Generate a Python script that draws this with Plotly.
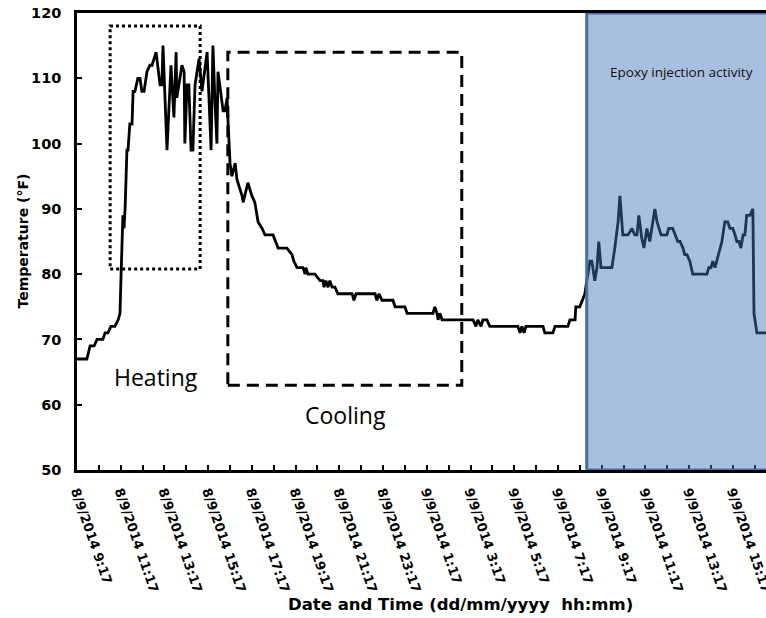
import plotly.graph_objects as go
import pandas as pd

# ---- data ----
START = pd.Timestamp("2014-09-08 09:17")
elapsed_min = [
    0, 27, 36, 47, 55, 71, 77, 85, 93, 104, 113, 118, 121, 126, 129, 132, 137, 140, 145, 151,
    154, 159, 167, 173, 178, 184, 192, 200, 206, 217, 228, 233, 236, 247, 252, 258, 266, 272, 274, 283,
    288, 294, 296, 302, 307, 313, 318, 324, 329, 335, 343, 348, 357, 368, 373, 379, 384, 387, 395, 401,
    406, 412, 414, 420, 425, 434, 439, 447, 453, 456, 469, 480, 488, 497, 508, 516, 538, 552, 576, 590,
    595, 604, 620, 626, 628, 634, 653, 667, 675, 678, 683, 689, 694, 700, 708, 716, 755, 760, 766, 818,
    823, 829, 837, 867, 873, 900, 906, 977, 982, 988, 991, 996, 1002, 1087, 1095, 1100, 1109, 1114, 1125, 1133,
    1210, 1216, 1221, 1227, 1232, 1279, 1284, 1306, 1312, 1347, 1353, 1367, 1369, 1380, 1386, 1394, 1399, 1408, 1413, 1421,
    1427, 1432, 1438, 1468, 1476, 1485, 1490, 1495, 1498, 1512, 1523, 1531, 1537, 1542, 1550, 1556, 1564, 1572, 1581, 1586,
    1592, 1597, 1603, 1619, 1624, 1635, 1641, 1649, 1655, 1663, 1668, 1674, 1682, 1690, 1729, 1734, 1740, 1745, 1751, 1756,
    1764, 1770, 1778, 1786, 1792, 1800, 1806, 1811, 1817, 1822, 1828, 1833, 1838, 1847, 1855, 1858, 1866, 1891,
]
temp_f = [
    67, 67, 69, 69, 70, 70, 71, 71, 72, 72, 73, 74, 80, 89, 87, 90, 99, 99, 103, 103,
    108, 108, 110, 110, 108, 108, 111, 112, 112, 114, 109, 109, 115, 99, 105, 112, 104, 114, 107, 110,
    112, 111, 100, 109, 109, 99, 99, 109, 111, 113, 108, 110, 114, 99, 115, 106, 100, 111, 108, 105,
    105, 107, 104, 97, 95, 97, 94.5, 93, 92, 91, 94, 92, 91, 88, 87, 86, 86, 84, 84, 83,
    82, 81, 81, 80, 81, 80, 80, 79, 79, 78, 79, 78, 79, 78, 78, 77, 77, 76, 77, 77,
    76, 77, 76, 76, 75, 75, 74, 74, 75, 74, 73, 74, 73, 73, 72, 73, 72, 73, 73, 72,
    72, 71, 72, 71, 72, 72, 71, 71, 72, 72, 73, 73, 75, 75, 76, 77, 79, 82, 82, 79,
    81, 85, 81, 81, 84, 88, 92, 88, 86, 86, 87, 86, 86, 89, 85.5, 84, 87, 85, 88, 90,
    88, 87, 86, 86, 87, 87, 86, 85, 85, 84, 83, 83, 82, 80, 80, 81, 81, 82, 81, 82,
    84, 85, 88, 88, 87, 87, 86, 85, 85, 84, 86, 86, 89, 89, 90, 74, 71, 71,
]
y_ticks = [50, 60, 70, 80, 90, 100, 110, 120]

times = [START + pd.Timedelta(minutes=m) for m in elapsed_min]

def t(m):
    return START + pd.Timedelta(minutes=m)

FONT = "DejaVu Sans"

fig = go.Figure()
fig.add_trace(go.Scatter(x=times, y=temp_f, mode="lines",
                         line=dict(color="black", width=2.8), showlegend=False,
                         hoverinfo="skip"))

shapes = [
    # heating box (dotted)
    dict(type="rect", xref="x", yref="y", x0=t(91), x1=t(338), y0=80.8, y1=118.0,
         line=dict(color="black", width=3, dash="dot"), fillcolor="rgba(0,0,0,0)", layer="above"),
    # cooling box (dashed)
    dict(type="rect", xref="x", yref="y", x0=t(414), x1=t(1056), y0=63.0, y1=114.0,
         line=dict(color="black", width=3, dash="12px,7px"), fillcolor="rgba(0,0,0,0)", layer="above"),
    # epoxy injection activity region
    dict(type="rect", xref="x", yref="y", x0=t(1399), x1=t(1990), y0=50, y1=120,
         line=dict(color="#4a6d9f", width=3), fillcolor="rgba(68,115,187,0.46)", layer="above"),
]

annotations = [
    dict(text="Heating", xref="paper", yref="paper", x=0.1147, y=0.2035, showarrow=False,
         font=dict(family="Open Sans", size=23, color="black"), xanchor="center", yanchor="middle"),
    dict(text="Cooling", xref="paper", yref="paper", x=0.389, y=0.120, showarrow=False,
         font=dict(family="Open Sans", size=23, color="black"), xanchor="center", yanchor="middle"),
    dict(text="Epoxy injection activity", xref="paper", yref="paper", x=0.877, y=0.87, showarrow=False,
         font=dict(family="Open Sans", size=13.5, color="#111111"), xanchor="center", yanchor="middle"),
    dict(text="Temperature (°F)", xref="paper", yref="paper", x=-0.0798, y=0.5, showarrow=False,
         textangle=-90, font=dict(family=FONT, size=14, color="black", weight="bold"),
         xanchor="center", yanchor="middle"),
    dict(text="Date and Time (dd/mm/yyyy\u00a0\u00a0hh:mm)", xref="paper", yref="paper", x=0.557, y=-0.295,
         showarrow=False, font=dict(family=FONT, size=16.5, color="black", weight="bold"),
         xanchor="center", yanchor="middle"),
]

fig.update_layout(
    width=766, height=618,
    margin=dict(l=77, r=0, t=13, b=148, autoexpand=False),
    paper_bgcolor="white", plot_bgcolor="white",
    shapes=shapes, annotations=annotations,
    xaxis=dict(
        type="date", range=[t(0), t(1891)], automargin=False,
        tick0=START, dtick=7200000, tickformat="%-d/%-m/%Y %-H:%M",
        tickangle=71, ticks="inside", ticklen=5, tickwidth=1.5, tickcolor="black",
        minor=dict(ticks="inside", ticklen=5, tickwidth=1.5, tickcolor="black",
                   dtick=3600000, tick0=START),
        showline=True, linecolor="black", linewidth=2.5, mirror=True,
        showgrid=False, zeroline=False,
        tickfont=dict(family=FONT, size=13, color="black", weight="bold"),
        ticklabelstandoff=6, ticklabeloverflow="allow",
    ),
    yaxis=dict(
        range=[50, 120], tickvals=y_ticks, ticks="inside", ticklen=5, tickwidth=2,
        tickcolor="black", showline=True, linecolor="black", linewidth=2.5,
        showgrid=False, zeroline=False, automargin=False,
        tickfont=dict(family=FONT, size=14.5, color="black", weight="bold"),
        ticklabelstandoff=10,
    ),
)

fig.write_html("out.html")
